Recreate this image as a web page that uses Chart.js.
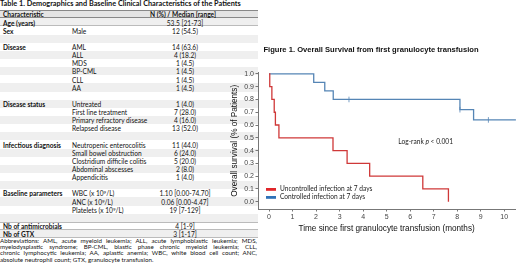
<!DOCTYPE html>
<html>
<head>
<meta charset="utf-8">
<script src="https://cdn.jsdelivr.net/npm/chart.js@4.4.0/dist/chart.umd.min.js"></script>
<style>
  html, body { margin: 0; padding: 0; background: #fff; }
  body { width: 520px; height: 271px; position: relative; overflow: hidden; }
  #table { position: absolute; left: 0; top: 0; width: 258px; height: 271px;
           font-family: Lato, "Open Sans", sans-serif; color: #111; }
  .cell { position: absolute; white-space: nowrap; font-size: 6.6px; line-height: 8px; }
  .row { position: absolute; left: 0; width: 258px; box-sizing: border-box; }
  .abbr { position: absolute; left: 0; width: 257px; font-size: 6.2px; line-height: 6.2px;
          text-align: justify; text-align-last: justify; white-space: nowrap; }
  #chartBox { position: absolute; left: 226px; top: 40px; width: 294px; height: 194px; }
</style>
</head>
<body>
<div id="table"></div>
<div id="chartBox"><canvas id="km"></canvas></div>
<script>
// Table 1 contents
const tableTitle = 'Table 1. Demographics and Baseline Clinical Characteristics of the Patients';
const colHeaders = ['Characteristic', 'N (%) / Median [range]'];
const rowGroups = ['Age (years)', 'Sex', '', 'Disease', '', '', '', '', '', '',
  'Disease status', '', '', '', '', 'Infectious diagnosis', '', '', '', '', '',
  'Baseline parameters', '', '', '', 'Nb of antimicrobials', 'Nb of GTX'];
const rowItems = ['', 'Male', '', 'AML', 'ALL', 'MDS', 'BP-CML', 'CLL', 'AA', '',
  'Untreated', 'First line treatment', 'Primary refractory disease', 'Relapsed disease', '',
  'Neutropenic enterocolitis', 'Small bowel obstruction', 'Clostridium difficile colitis',
  'Abdominal abscesses', 'Appendicitis', '',
  'WBC (x 10<sup>9</sup>/L)', 'ANC (x 10<sup>9</sup>/L)', 'Platelets (x 10<sup>9</sup>/L)', '', '', ''];
const rowValues = ['53.5 [21-73]', '12 (54.5)', '', '14 (63.6)', '4 (18.2)', '1 (4.5)', '1 (4.5)',
  '1 (4.5)', '1 (4.5)', '', '1 (4.0)', '7 (28.0)', '4 (16.0)', '13 (52.0)', '',
  '11 (44.0)', '6 (24.0)', '5 (20.0)', '2 (8.0)', '1 (4.0)', '',
  '1.10 [0.00-74.70]', '0.06 [0.00-4.47]', '19 [7-129]', '', '4 [1-9]', '3 [1-17]'];
const abbrevLines = [
  'Abbreviations: AML, acute myeloid leukemia; ALL, acute lymphoblastic leukemia; MDS,',
  'myelodysplastic syndrome; BP-CML, blastic phase chronic myeloid leukemia; CLL,',
  'chronic lymphocytic leukemia; AA, aplastic anemia; WBC, white blood cell count; ANC,',
  'absolute neutrophil count; GTX, granulocyte transfusion.'
];

// Figure 1: Kaplan-Meier steps (months, survival fraction)
const uncontrolledTimes = [0, 0.03, 0.12, 0.22, 0.27, 0.42, 2.72, 3.32, 4.28, 6.54, 7.63];
const uncontrolledSurv  = [1.0, 0.9, 0.8, 0.7, 0.6, 0.5, 0.4, 0.3, 0.2, 0.1, 0.0];
const controlledTimes = [0, 1.9, 2.37, 2.73, 8.12, 8.7, 10.5];
const controlledSurv  = [1.0, 0.933, 0.867, 0.8, 0.72, 0.64, 0.64];
const censorTimes = [3.4, 8.12, 9.33];
const censorSurv  = [0.8, 0.72, 0.64];
const seriesLabels = ['Uncontrolled infection at 7 days', 'Controlled infection at 7 days'];
const xTicks = [0, 1, 2, 3, 4, 5, 6, 7, 8, 9, 10];
const yTicks = [0, 0.1, 0.2, 0.3, 0.4, 0.5, 0.6, 0.7, 0.8, 0.9, 1.0];
const logRankText = ['Log-rank ', 'p', ' < 0.001'];
const logRankAt = [5.5, 0.47];

// ---- build the table
const tbl = document.getElementById('table');
const ROW_H = 8.14, FIRST_TOP = 10.2;
function addDiv(cls, style, html) {
  const d = document.createElement('div');
  d.className = cls;
  d.style.cssText = style;
  d.innerHTML = html;
  tbl.appendChild(d);
  return d;
}
addDiv('cell', 'left:0;top:-0.4px;font-weight:bold;font-size:7.3px;', tableTitle);
// header
addDiv('row', `top:${FIRST_TOP}px;height:${ROW_H}px;background:#e4e4e4;border-top:0.8px solid #888;border-bottom:0.8px solid #888;`, '');
addDiv('cell', `left:3px;top:${FIRST_TOP + 0.2}px;font-weight:bold;`, colHeaders[0]);
addDiv('cell', `left:183px;top:${FIRST_TOP + 0.2}px;font-weight:bold;transform:translateX(-50%);`, colHeaders[1]);
for (let i = 0; i < rowValues.length; i++) {
  const top = FIRST_TOP + (i + 1) * ROW_H;
  let style = `top:${top}px;height:${ROW_H}px;`;
  if (i % 2 === 0) style += 'background:#efefef;';
  if (i === 0 || i === 25 || i === 26) style += 'border-bottom:0.5px solid #bbb;';
  if (i === 25) style += 'border-top:0.5px solid #bbb;';
  addDiv('row', style, '');
  if (rowGroups[i]) addDiv('cell', `left:3px;top:${top + 0.2}px;font-weight:bold;`, rowGroups[i]);
  if (rowItems[i]) addDiv('cell', `left:72px;top:${top + 0.2}px;`, rowItems[i]);
  if (rowValues[i]) addDiv('cell', `left:185px;top:${top + 0.2}px;transform:translateX(-50%);`, rowValues[i]);
}
abbrevLines.forEach((t, i) => {
  const d = addDiv('abbr', `top:${238 + i * 6.2}px;`, t);
  if (i === abbrevLines.length - 1) d.style.textAlignLast = 'left';
});
document.querySelectorAll('sup').forEach(s => { s.style.fontSize = '4.5px'; s.style.verticalAlign = '2px'; s.style.lineHeight = '0'; });

// ---- the chart
const RED = '#cf3838';
const BLUE = '#5585b5';
const SMALL_FONT = '6.6px Lato, "Open Sans", sans-serif';
const toPoints = (xs, ys) => xs.map((x, i) => ({ x: x, y: ys[i] }));

// legend and annotation drawn inside the plot area
const insidePlugin = {
  id: 'inside',
  afterDraw(chart) {
    const ctx = chart.ctx;
    const a = chart.chartArea;
    ctx.save();
    ctx.font = SMALL_FONT;
    ctx.textBaseline = 'middle';
    ctx.textAlign = 'left';
    const swatch = ['#e0262a', '#2f72b8'];
    seriesLabels.forEach((lab, i) => {
      const y = a.bottom - 19.7 + i * 8;
      ctx.fillStyle = swatch[i];
      ctx.fillRect(a.left + 8, y - 1.3, 10, 2.8);
      ctx.fillStyle = '#222';
      ctx.fillText(lab, a.left + 22, y);
    });
    const xs = chart.scales.x.getPixelForValue(logRankAt[0]);
    const ys = chart.scales.y.getPixelForValue(logRankAt[1]);
    let x = xs;
    ctx.fillText(logRankText[0], x, ys); x += ctx.measureText(logRankText[0]).width;
    ctx.font = 'italic ' + SMALL_FONT;
    ctx.fillText(logRankText[1], x, ys); x += ctx.measureText(logRankText[1]).width;
    ctx.font = SMALL_FONT;
    ctx.fillText(logRankText[2], x, ys);
    ctx.restore();
  }
};

const axisFont = { family: 'Liberation Sans, Arial, sans-serif', size: 7 };
new Chart(document.getElementById('km'), {
  type: 'line',
  data: {
    datasets: [
      { label: seriesLabels[0], data: toPoints(uncontrolledTimes, uncontrolledSurv),
        borderColor: RED, borderWidth: 1.3, stepped: 'before', pointRadius: 0, fill: false },
      { label: seriesLabels[1], data: toPoints(controlledTimes, controlledSurv),
        borderColor: BLUE, borderWidth: 1.3, stepped: 'before', pointRadius: 0, fill: false },
      { label: 'censored', data: toPoints(censorTimes, censorSurv), showLine: false,
        pointStyle: 'line', rotation: 90, pointRadius: 2.8, borderColor: BLUE, borderWidth: 0.8 }
    ]
  },
  options: {
    animation: false,
    responsive: true,
    maintainAspectRatio: false,
    clip: false,
    layout: { padding: { right: 4, left: 0, top: 0, bottom: 0 } },
    plugins: {
      legend: { display: false },
      tooltip: { enabled: false },
      title: {
        display: true,
        text: 'Figure 1. Overall Survival from first granulocyte transfusion',
        color: '#111',
        font: { family: 'Liberation Sans, Arial, sans-serif', size: 7.6, weight: 'bold', lineHeight: 1.2 },
        padding: { top: 5.5, bottom: 18 }
      }
    },
    scales: {
      x: {
        type: 'linear', min: -0.47, max: 10.47,
        afterBuildTicks: s => { s.ticks = xTicks.map(v => ({ value: v })); },
        afterFit: s => { s.height = 25; },
        ticks: { font: axisFont, color: '#444', padding: 1, maxRotation: 0 },
        grid: { display: true, drawOnChartArea: false, drawTicks: true, tickLength: 2.5, color: '#777' },
        border: { display: true, color: '#777', width: 1 },
        title: { display: true, text: 'Time since first granulocyte transfusion (months)', color: '#111',
                 font: { family: 'Liberation Sans, Arial, sans-serif', size: 8.2 }, padding: { top: 0, bottom: 0 } }
      },
      y: {
        type: 'linear', min: -0.057, max: 1.01,
        afterBuildTicks: s => { s.ticks = yTicks.map(v => ({ value: v })); },
        afterFit: s => { s.width = 32; },
        ticks: { font: axisFont, color: '#444', padding: 1.5, callback: v => v.toFixed(1) },
        grid: { display: true, drawOnChartArea: false, drawTicks: true, tickLength: 2.5, color: '#777' },
        border: { display: true, color: '#777', width: 1 },
        title: { display: true, text: 'Overall survival (% of Patients)', color: '#111',
                 font: { family: 'Liberation Sans, Arial, sans-serif', size: 8.2 }, padding: { top: 4, bottom: 0 } }
      }
    }
  },
  plugins: [insidePlugin]
});
</script>
</body>
</html>
